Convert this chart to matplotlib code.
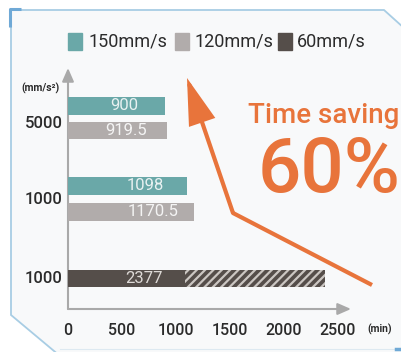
import matplotlib
matplotlib.use("Agg")
import matplotlib.pyplot as plt
from matplotlib.patches import Polygon, Rectangle, FancyArrowPatch
from matplotlib.lines import Line2D

plt.rcParams['font.family'] = ['Roboto', 'DejaVu Sans']
plt.rcParams['hatch.linewidth'] = 1.6

# ---- data -------------------------------------------------------------
speeds = ["150mm/s", "120mm/s", "60mm/s"]
accel_labels = ["5000", "1000", "1000"]
times_150 = [900, 1098]          # minutes, groups 5000 / 1000
times_120 = [919.5, 1170.5]
times_60 = [2377]                # group 1000 (bottom)
x_ticks = [0, 500, 1000, 1500, 2000, 2500]
saving_text = "Time saving"
saving_pct = "60%"

# ---- style ------------------------------------------------------------
TEAL = "#6aa8a8"
GRAY = "#b1acab"
DARK = "#554e4a"
ORANGE = "#e8743b"
AXIS = "#a9a9a9"
BORDER = "#a8cde4"
TXT = "#2b2b2b"

W, H = 401, 352
fig = plt.figure(figsize=(W / 100, H / 100), dpi=100)
fig.patch.set_facecolor("white")

# background / decoration layer in pixel coordinates
bg = fig.add_axes([0, 0, 1, 1], zorder=0)
bg.set_xlim(0, W)
bg.set_ylim(H, 0)
bg.axis("off")
bg.add_patch(Polygon([(11, 10), (384, 10), (404, 28), (404, 356), (60, 356),
                      (11, 315)], closed=True, facecolor="#f8f9fa",
                     edgecolor=BORDER, lw=1.3))
bg.plot([60, 396], [349, 349], color="#dde9f1", lw=0.8)
bg.plot([10, 10, 21], [27, 9, 9], color="#6fa9d6", lw=2.2,
        solid_capstyle="butt")
bg.plot([396, 401], [349, 349], color="#6fa9d6", lw=2.5)

# main bar axes: x=0 at px 68, 10.8 px per 100 min
x0, ytop, ybot, xr = 68, 68, 309, 351
xmax = (xr - x0) / 10.8 * 100
ax = fig.add_axes([x0 / W, 1 - ybot / H, (xr - x0) / W, (ybot - ytop) / H],
                  zorder=2)
ax.patch.set_alpha(0)
ax.set_xlim(0, xmax)
ax.set_ylim(ybot, ytop)
for s in ax.spines.values():
    s.set_visible(False)

bh = 17.5
y150 = [106, 186]
y120 = [130.5, 212]
y60 = [278.5]

ax.barh(y150, times_150, height=bh, color=TEAL, zorder=3)
ax.barh(y120, times_120, height=bh, color=GRAY, zorder=3)
ax.barh(y60, times_60, height=bh, color=DARK, zorder=3)
# striped tail of the 60mm/s bar
hatch_start = 1080
ax.barh(y60, [v - hatch_start for v in times_60], left=hatch_start,
        height=bh, color=DARK, edgecolor="#cbc6c2", linewidth=0,
        hatch="////", zorder=4)

for v, y in zip(times_150, y150):
    ax.text(v - 380, y, f"{v:g}", color="#e8f1f1", fontsize=12,
            ha="center", va="center", zorder=5)
for v, y in zip(times_120, y120):
    ax.text(v - 385, y, f"{v:g}", color="#f4f4f4", fontsize=12,
            ha="center", va="center", zorder=5)
for v, y in zip(times_60, y60):
    ax.text(700, y, f"{v:g}", color="#dedad7", fontsize=12,
            ha="center", va="center", zorder=5)

ax.set_yticks([])
ax.set_xticks(x_ticks)
ax.set_xticklabels([str(t) for t in x_ticks], fontsize=11.5, color=TXT,
                   fontweight="medium")
ax.tick_params(axis="x", length=0, pad=10)

# axis arrows
ax.annotate("", xy=(xmax, ybot), xytext=(0, ybot),
            arrowprops=dict(arrowstyle="-|>,head_length=0.8,head_width=0.35",
                            color=AXIS, lw=1.5, shrinkA=0, shrinkB=0),
            annotation_clip=False, zorder=2)
ax.annotate("", xy=(0, ytop), xytext=(0, ybot),
            arrowprops=dict(arrowstyle="-|>,head_length=0.8,head_width=0.35",
                            color=AXIS, lw=1.5, shrinkA=0, shrinkB=0),
            annotation_clip=False, zorder=2)

# category labels and units (pixel layer above axes)
top = fig.add_axes([0, 0, 1, 1], zorder=3)
top.set_xlim(0, W)
top.set_ylim(H, 0)
top.axis("off")
for lab, y in zip(accel_labels, [124, 200, 278.5]):
    top.text(63, y, lab, ha="right", va="center", fontsize=12, color=TXT,
             fontweight="medium")
top.text(40, 88, "(mm/s²)", ha="center", va="center", fontsize=7.5,
         color=TXT, fontweight="bold")
top.text(367, 329, "(min)", ha="left", va="center", fontsize=7.5,
         color=TXT, fontweight="bold")

# legend
for (sx, tx), lab, c in zip([(68, 88), (175, 195), (278, 297)], speeds,
                            [TEAL, GRAY, DARK]):
    top.add_patch(Rectangle((sx, 33), 14, 17, color=c))
    top.text(tx, 42, lab, ha="left", va="center", fontsize=13, color=TXT)

# time saving callout
top.text(399, 123, saving_text, ha="right", va="baseline", fontsize=20,
         color=ORANGE, fontweight="medium")
top.text(401, 192, saving_pct, ha="right", va="baseline", fontsize=55,
         color=ORANGE, fontweight="medium")

top.add_line(Line2D([372, 233], [285, 213], color=ORANGE, lw=3,
                    solid_capstyle="butt", solid_joinstyle="miter"))
top.add_patch(FancyArrowPatch((233, 213), (187, 78),
                              arrowstyle="-|>,head_length=27,head_width=8",
                              mutation_scale=1, color=ORANGE, lw=3,
                              shrinkA=0, shrinkB=0, joinstyle="miter"))

fig.savefig("out.png", dpi=100, facecolor="white")
